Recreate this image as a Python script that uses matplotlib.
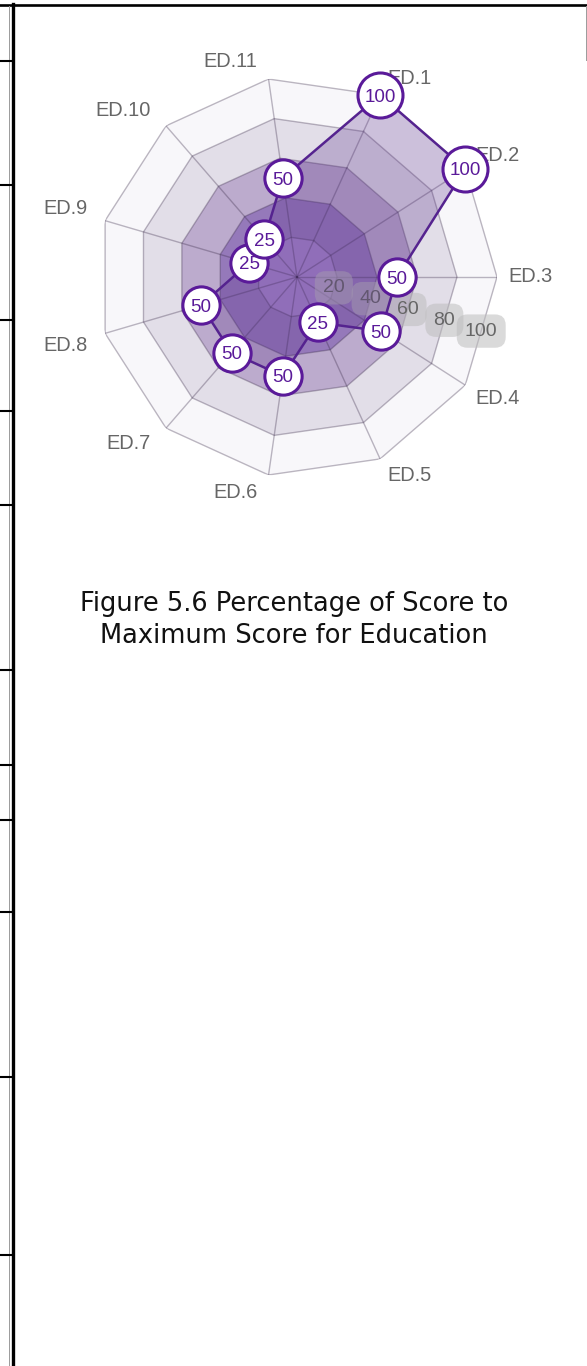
import numpy as np
import matplotlib
matplotlib.use("Agg")
import matplotlib.pyplot as plt
from matplotlib.lines import Line2D

# ---------------- data ----------------
categories = ["ED.1", "ED.2", "ED.3", "ED.4", "ED.5", "ED.6",
              "ED.7", "ED.8", "ED.9", "ED.10", "ED.11"]
scores = [100, 100, 50, 50, 25, 50, 50, 50, 25, 25, 50]
tick_values = [20, 40, 60, 80, 100]
title_lines = ["Figure 5.6 Percentage of Score to",
               "Maximum Score for Education"]

# ---------------- layout / style ----------------
W, H, DPI = 587, 1366, 100
cx, cy, R = 297, 277, 200          # radar centre and radius in pixels
band_colors = ["#f8f7fa", "#e2dee8", "#bcabcd", "#9579ba", "#a586cb"]
grid_color = (0.22, 0.16, 0.28, 0.33)
data_fill = (0.36, 0.2, 0.55, 0.28)
line_color = "#55238f"
marker_edge = "#5a1a99"
label_purple = "#5a1a99"
text_gray = "#666666"

fig = plt.figure(figsize=(W / DPI, H / DPI), dpi=DPI)
fig.patch.set_facecolor("white")

ax = fig.add_axes([(cx - R) / W, (H - cy - R) / H, 2 * R / W, 2 * R / H],
                  projection="polar")
ax.set_theta_zero_location("N")
ax.set_theta_direction(-1)
ax.axis("off")

n = len(categories)
step = 2 * np.pi / n
theta = np.pi / 2 - 2 * step + np.arange(n) * step      # ED.3 points right
theta_c = np.append(theta, theta[0])
rmax = tick_values[-1]
ax.set_ylim(0, rmax)

# background bands (outermost first)
for lev, col in zip(tick_values[::-1], band_colors):
    ax.fill(theta_c, [lev] * (n + 1), color=col, lw=0, zorder=1)

# polygon grid + spokes
for lev in tick_values:
    ax.plot(theta_c, [lev] * (n + 1), color=grid_color, lw=1, zorder=2)
for t in theta:
    ax.plot([t, t], [0, rmax], color=grid_color, lw=1, zorder=2)

# radial tick labels with backdrops
t_tick = theta[2] + step / 2
for v in tick_values:
    ax.text(t_tick, v * 0.96, str(v), ha="center", va="center",
            fontsize=14, color=text_gray, family="Liberation Sans", zorder=3,
            bbox=dict(boxstyle="round,pad=0.42,rounding_size=0.55",
                      fc=(0.74, 0.74, 0.74, 0.55), ec="none"))

# axis labels (Chart.js-like alignment)
for t, name in zip(theta, categories):
    a = int(round(np.degrees(t))) % 360
    if a in (0, 180):
        ha, dx = "center", 0
    elif a < 180:
        ha, dx = "left", 2.5
    else:
        ha, dx = "right", -7
    if a in (90, 270):
        va = "center"
    elif a < 90 or a > 270:
        va = "bottom"
    else:
        va = "top"
    ax.annotate(name, xy=(t, rmax + 4), xytext=(dx, 0),
                textcoords="offset points", ha=ha, va=va, fontsize=14.4,
                color=text_gray, family="Liberation Sans", zorder=3,
                annotation_clip=False)

# data polygon
sc = np.append(scores, scores[0])
ax.fill(theta_c, sc, color=data_fill, lw=0, zorder=4)
ax.plot(theta_c, sc, color=line_color, lw=1.8, zorder=5, clip_on=False)

# data labels in circles
for i, (t, v) in enumerate(zip(theta, scores)):
    s = 1050 if len(str(v)) >= 3 else 720
    ax.scatter([t], [v], s=s, facecolor="white", edgecolor=marker_edge,
               linewidths=2.2, zorder=6 + 2 * i, clip_on=False)
    ax.text(t, v, str(v), ha="center", va="center_baseline", fontsize=13.5,
            color=label_purple, family="Liberation Sans", zorder=7 + 2 * i,
            clip_on=False)

# title
for k, line in enumerate(title_lines):
    fig.text(294 / W, 1 - (604 + 32 * k) / H, line, ha="center", va="center",
             fontsize=18.5, color="#111111", family="DejaVu Sans")

# page decorations (table borders)
def hline(y, x0, x1, lw, color="black"):
    fig.add_artist(Line2D([x0 / W, x1 / W], [1 - y / H, 1 - y / H],
                          transform=fig.transFigure, lw=lw, color=color))

def vline(x, y0, y1, lw, color="black"):
    fig.add_artist(Line2D([x / W, x / W], [1 - y0 / H, 1 - y1 / H],
                          transform=fig.transFigure, lw=lw, color=color))

hline(5, 0, W, 1.9)
vline(12.5, 4, H, 2.4)
vline(9, 6, H, 0.7, "#9a9a9a")
vline(585.5, 6, 60, 0.7, "#9a9a9a")
for y in [61, 185, 320, 411, 505, 670, 765, 820, 912, 1077, 1255]:
    hline(y, 0, 12, 1.5)

fig.savefig("out.png", dpi=DPI, facecolor="white")
